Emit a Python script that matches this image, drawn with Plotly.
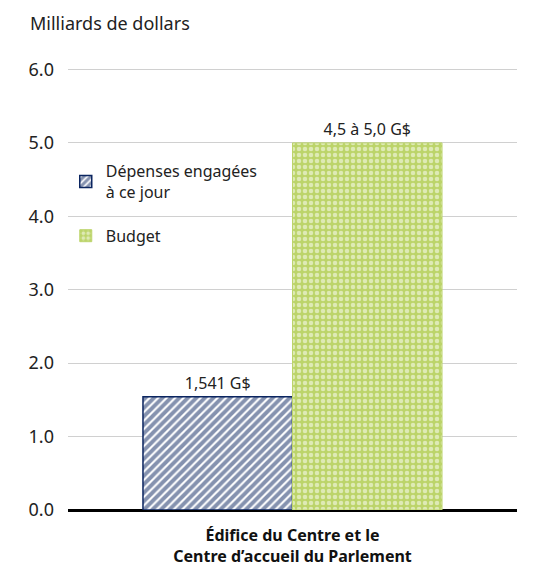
import plotly.graph_objects as go

# Données du graphique
categorie = ["Édifice du Centre et le<br>Centre d’accueil du Parlement"]
depenses = [1.541]
budget = [5.0]
etiquette_depenses = ["1,541 G$"]
etiquette_budget = ["4,5 à 5,0 G$"]
graduations = [0, 1, 2, 3, 4, 5, 6]

POLICE = "Noto Sans"
BLEU = "#0b2560"
VERT = "#bcd46a"

fig = go.Figure()

fig.add_trace(go.Bar(
    x=categorie, y=depenses,
    name="Dépenses engagées<br>à ce jour", legendgroup="dep",
    text=etiquette_depenses, textposition="outside",
    textfont=dict(family=POLICE, size=16, color="#222222"),
    marker=dict(color="white", line=dict(color=BLEU, width=1.5),
                pattern=dict(shape="/", fgcolor=BLEU, bgcolor="white",
                             size=6, solidity=0.65)),
    cliponaxis=False,
))

fig.add_trace(go.Bar(
    x=categorie, y=budget,
    name="Budget", legendgroup="bud",
    text=etiquette_budget, textposition="outside",
    textfont=dict(family=POLICE, size=16, color="#222222"),
    marker=dict(color=VERT, line=dict(color=VERT, width=1),
                pattern=dict(shape=".", fgcolor="white", bgcolor=VERT,
                             size=6, solidity=0.45)),
    cliponaxis=False,
))

# la page ajoute une marge de 8 px autour de la figure
fig.update_layout(
    width=543, height=580,
    margin=dict(l=60, r=34, t=60, b=78),
    paper_bgcolor="white", plot_bgcolor="white",
    barmode="group", bargap=0.334, bargroupgap=0,
    font=dict(family=POLICE, size=16, color="#222222"),
    showlegend=True,
    legend=dict(x=-0.005, y=0.805, xanchor="left", yanchor="top",
                bgcolor="rgba(0,0,0,0)", font=dict(size=16),
                traceorder="grouped", tracegroupgap=20, itemwidth=30),
    annotations=[dict(text="Milliards de dollars", xref="paper", yref="paper",
                      x=-0.089, y=1.07, xanchor="left", yanchor="bottom",
                      showarrow=False, font=dict(size=18, color="#222222"))],
)

fig.update_xaxes(showline=False, showgrid=False, ticks="", ticklabelstandoff=14,
                 tickfont=dict(size=16, color="#111111", family=POLICE, weight="bold"))
fig.update_yaxes(range=[0, 6.02], tickvals=graduations, tickformat=".1f",
                 showgrid=True, gridcolor="#d0d0d0", gridwidth=1,
                 zeroline=True, zerolinecolor="black", zerolinewidth=3,
                 showline=False, ticks="", ticklabelstandoff=13,
                 tickfont=dict(size=18, color="#222222"))

fig.write_html("out.html")
